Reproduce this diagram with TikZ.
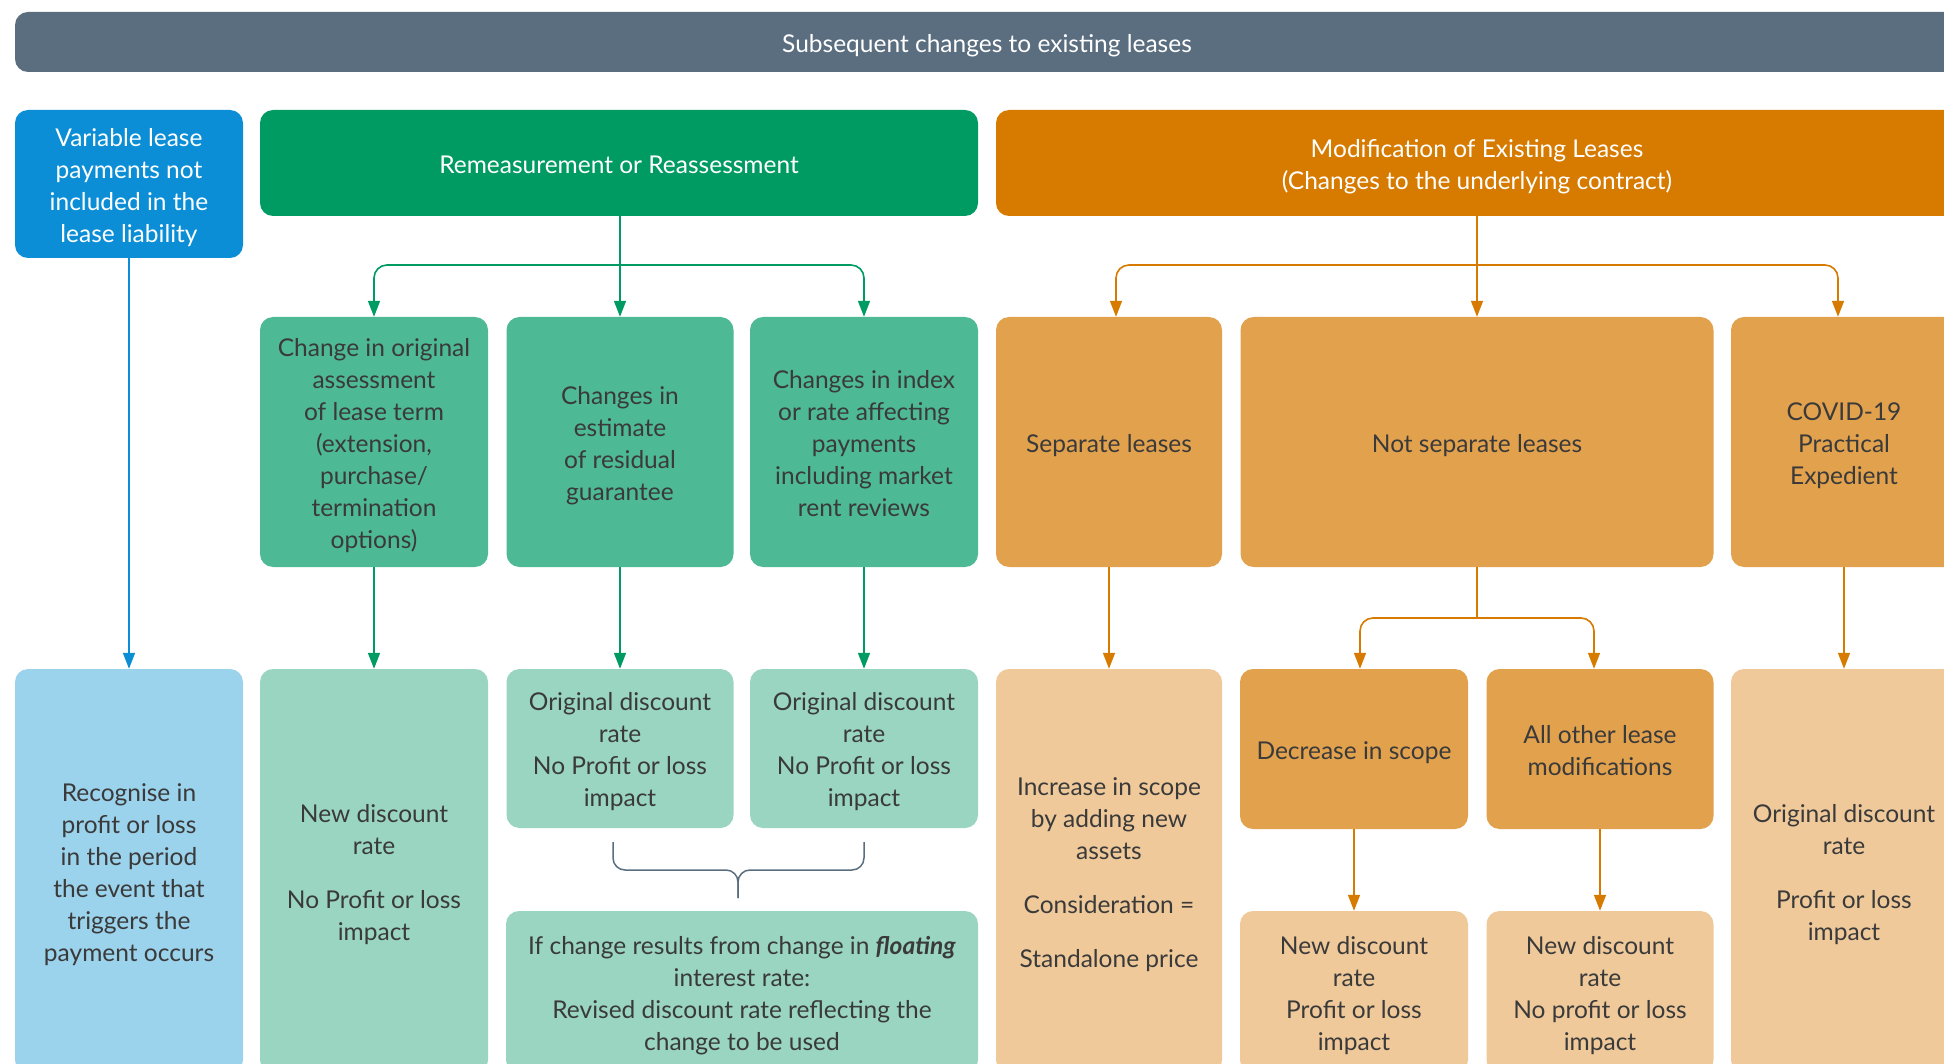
\documentclass[tikz,border=0pt]{standalone}
\usepackage{fontspec}
\setmainfont{Lato}
\usetikzlibrary{arrows.meta}
\definecolor{slate}{HTML}{5B6E80}
\definecolor{cblue}{HTML}{0B8ED6}
\definecolor{lblue}{HTML}{9BD2EC}
\definecolor{cgreen}{HTML}{009B63}
\definecolor{mgreen}{HTML}{4DB995}
\definecolor{lgreen}{HTML}{99D5C1}
\definecolor{corange}{HTML}{D67B00}
\definecolor{morange}{HTML}{E2A14D}
\definecolor{lorange}{HTML}{EFC99A}
\definecolor{txt}{HTML}{3A3A3A}
\newcommand{\bodyfont}{\fontsize{24.5}{32}\selectfont}
\newcommand{\bx}[1]{\raisebox{-4pt}[\height][\depth]{\begin{tabular}{@{}c@{}}#1\end{tabular}}}
\begin{document}
\begin{tikzpicture}[x=1pt,y=-1pt,
  box/.style={rounded corners=13pt, inner sep=0pt, align=center, text=txt, font=\bodyfont},
  wbox/.style={box, text=white},
  conn/.style={line width=1.6pt, -{Triangle[length=16pt,width=12pt]}},
  line/.style={line width=1.6pt},
]
\useasboundingbox (0,0) rectangle (1944,1064);
\clip (0,0) rectangle (1944,1064);

% title
\node[wbox, fill=slate, minimum width=1944pt, minimum height=60pt] (title) at (987,42) {\bx{Subsequent changes to existing leases}};

% row 1
\node[wbox, fill=cblue, minimum width=228pt, minimum height=148pt] (var) at (129,184) {\bx{Variable lease\\payments not\\included in the\\lease liability}};
\node[wbox, fill=cgreen, minimum width=718pt, minimum height=106pt] (gh) at (619,163) {\bx{Remeasurement or Reassessment}};
\node[wbox, fill=corange, minimum width=962pt, minimum height=106pt] (oh) at (1477,163) {\bx{Modification of Existing Leases\\(Changes to the underlying contract)}};

% row 2
\node[box, fill=mgreen, minimum width=228pt, minimum height=250pt] (g1) at (374,442) {\bx{Change in original\\assessment\\of lease term\\(extension,\\purchase/\\termination\\options)}};
\node[box, fill=mgreen, minimum width=227pt, minimum height=250pt] (g2) at (620,442) {\bx{Changes in\\estimate\\of residual\\guarantee}};
\node[box, fill=mgreen, minimum width=228pt, minimum height=250pt] (g3) at (864,442) {\bx{Changes in index\\or rate affecting\\payments\\including market\\rent reviews}};
\node[box, fill=morange, minimum width=226pt, minimum height=250pt] (o1) at (1109,442) {\bx{Separate leases}};
\node[box, fill=morange, minimum width=473pt, minimum height=250pt] (o2) at (1477,442) {\bx{Not separate leases}};
\node[box, fill=morange, minimum width=226pt, minimum height=250pt] (o3) at (1844,442) {\bx{COVID-19\\Practical\\Expedient}};

% row 3
\node[box, fill=lblue, minimum width=228pt, minimum height=404pt] (b3) at (129,871) {\bx{Recognise in\\profit or loss\\in the period\\the event that\\triggers the\\payment occurs}};
\node[box, fill=lgreen, minimum width=228pt, minimum height=404pt] (g31) at (374,871) {\bx{New discount\\rate\\[22pt]No Profit or loss\\impact}};
\node[box, fill=lgreen, minimum width=227pt, minimum height=159pt] (g32) at (620,748.5) {\bx{Original discount\\rate\\No Profit or loss\\impact}};
\node[box, fill=lgreen, minimum width=228pt, minimum height=159pt] (g33) at (864,748.5) {\bx{Original discount\\rate\\No Profit or loss\\impact}};
\node[box, fill=lorange, minimum width=226pt, minimum height=404pt] (o31) at (1109,871) {\bx{Increase in scope\\by adding new\\assets\\[22pt]Consideration =\\[22pt]Standalone price}};
\node[box, fill=morange, minimum width=228pt, minimum height=160pt] (o32) at (1354,749) {\bx{Decrease in scope}};
\node[box, fill=morange, minimum width=227pt, minimum height=160pt] (o33) at (1600,749) {\bx{All other lease\\modifications}};
\node[box, fill=lorange, minimum width=226pt, minimum height=404pt] (o34) at (1844,871) {\bx{Original discount\\rate\\[22pt]Profit or loss\\impact}};

% row 4
\node[box, fill=lgreen, minimum width=472pt, minimum height=162pt] (gf) at (742,992) {\bx{If change results from change in \textbf{\textit{floating}}\\interest rate:\\Revised discount rate reflecting the\\change to be used}};
\node[box, fill=lorange, minimum width=228pt, minimum height=162pt] (o41) at (1354,992) {\bx{New discount\\rate\\Profit or loss\\impact}};
\node[box, fill=lorange, minimum width=227pt, minimum height=162pt] (o42) at (1600,992) {\bx{New discount\\rate\\No profit or loss\\impact}};

% blue connector
\draw[conn, cblue] (var.south) -- (b3.north);

% green connectors
\coordinate (gj) at (620,265);
\draw[line, cgreen] (gh.south -| gj) -- (gj);
\draw[conn, cgreen] (gj) -- (g2.north);
\draw[conn, cgreen, rounded corners=13pt] (gj) -| (g1.north);
\draw[conn, cgreen, rounded corners=13pt] (gj) -| (g3.north);
\draw[conn, cgreen] (g1.south) -- (g31.north);
\draw[conn, cgreen] (g2.south) -- (g32.north);
\draw[conn, cgreen] (g3.south) -- (g33.north);

% orange connectors
\coordinate (oj) at (1477,265);
\draw[line, corange] (oh.south) -- (oj);
\draw[conn, corange] (oj) -- (o2.north);
\draw[conn, corange, rounded corners=13pt] (oj) -| ([xshift=7pt]o1.north);
\draw[conn, corange, rounded corners=13pt] (oj) -| ([xshift=-6pt]o3.north);
\draw[conn, corange] (o1.south) -- (o31.north);
\draw[conn, corange] (o3.south) -- (o34.north);
\coordinate (nj) at (1477,618);
\draw[line, corange] (o2.south) -- (nj);
\draw[conn, corange, rounded corners=13pt] (nj) -| ([xshift=6pt]o32.north);
\draw[conn, corange, rounded corners=13pt] (nj) -| ([xshift=-6pt]o33.north);
\draw[conn, corange] (o32.south) -- (o41.north);
\draw[conn, corange] (o33.south) -- (o42.north);

% brace
\coordinate (bl) at (613,842);
\coordinate (br) at (864,842);
\coordinate (bm) at (738,870);
\coordinate (bt) at (738,898);
\draw[line, slate, line width=1.5pt, rounded corners=12pt] (bl) -- (bl |- bm) -- (bm) -- (bt);
\draw[line, slate, line width=1.5pt, rounded corners=12pt] (br) -- (br |- bm) -- (bm) -- (bt);
\end{tikzpicture}
\end{document}
